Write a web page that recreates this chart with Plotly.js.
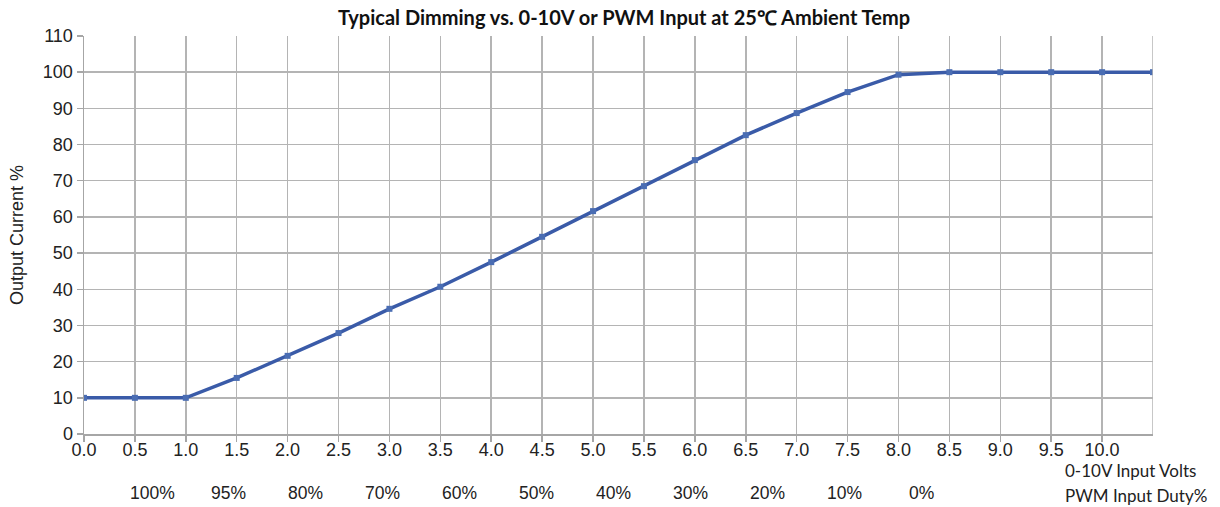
<!DOCTYPE html>
<html>
<head>
<meta charset="utf-8">
<script src="https://cdn.plot.ly/plotly-3.0.1.min.js"></script>
<style>html,body{margin:0;padding:0;background:#fff;}#chart{width:1220px;height:507px;}</style>
</head>
<body>
<div id="chart"></div>
<script>
// Data
var inputVolts = [0.0, 0.5, 1.0, 1.5, 2.0, 2.5, 3.0, 3.5, 4.0, 4.5, 5.0, 5.5, 6.0, 6.5, 7.0, 7.5, 8.0, 8.5, 9.0, 9.5, 10.0, 10.5];
var outputCurrent = [10, 10, 10, 15.5, 21.6, 27.9, 34.6, 40.7, 47.5, 54.5, 61.6, 68.5, 75.7, 82.6, 88.7, 94.5, 99.3, 100, 100, 100, 100, 100];
var voltTickVals = [0.0, 0.5, 1.0, 1.5, 2.0, 2.5, 3.0, 3.5, 4.0, 4.5, 5.0, 5.5, 6.0, 6.5, 7.0, 7.5, 8.0, 8.5, 9.0, 9.5, 10.0];
var voltTickText = ["0.0","0.5","1.0","1.5","2.0","2.5","3.0","3.5","4.0","4.5","5.0","5.5","6.0","6.5","7.0","7.5","8.0","8.5","9.0","9.5","10.0"];
var pwmLabels = ["100%","95%","80%","70%","60%","50%","40%","30%","20%","10%","0%"];

var ARIAL = '"Liberation Sans", Arial, sans-serif';
var CALIBRI = 'Lato, "Open Sans", sans-serif';

var pwmStart = 0.668, pwmStep = 0.756;
var annotations = pwmLabels.map(function(t, i){
  return {x: pwmStart + i*pwmStep, xref:'x', y:-(493-434)/398, yref:'paper', yanchor:'middle',
          text:t, showarrow:false, font:{family:ARIAL, size:17.5, color:'#222'}};
});
annotations.push({text:'0-10V Input Volts', showarrow:false, xref:'paper', yref:'paper', x:(1063-84)/1069, xanchor:'left', y:-(470-434)/398, yanchor:'middle', font:{family:CALIBRI, size:17, color:'#222'}});
annotations.push({text:'PWM Input Duty%', showarrow:false, xref:'paper', yref:'paper', x:(1063-84)/1069, xanchor:'left', y:-(495-434)/398, yanchor:'middle', font:{family:CALIBRI, size:17, color:'#222'}});

var trace = {
  x: inputVolts, y: outputCurrent, type:'scatter', mode:'lines+markers',
  line:{color:'#3a5ba8', width:3.5},
  marker:{symbol:'square', size:6, color:'#4a6db3'},
  hoverinfo:'x+y'
};

var layout = {
  width:1220, height:507,
  margin:{l:84, r:67, t:36, b:73},
  paper_bgcolor:'#fff', plot_bgcolor:'#fff',
  showlegend:false,
  title:{text:'<b>Typical Dimming vs. 0-10V or PWM Input at 25℃ Ambient Temp</b>', x:624/1220, xanchor:'center', y:1-18/507, yanchor:'middle',
         font:{family:CALIBRI, size:20, color:'#111'}},
  xaxis:{range:[0,10.5], tickvals:voltTickVals, ticktext:voltTickText, showgrid:true, gridcolor:'#b4b4b4', gridwidth:1.5,
         showline:true, linecolor:'#a6a6a6', linewidth:1.5, ticks:'outside', ticklen:6, tickcolor:'#a6a6a6', tickwidth:1.5,
         ticklabelstandoff:-7,
         zeroline:false, tickfont:{family:ARIAL, size:18, color:'#222'}, fixedrange:true},
  yaxis:{range:[0,110], dtick:10, tick0:0, showgrid:true, gridcolor:'#b4b4b4', gridwidth:1.5,
         showline:true, linecolor:'#a6a6a6', linewidth:1.5, ticks:'outside', ticklen:6, tickcolor:'#a6a6a6', tickwidth:1.5,
         zeroline:false, tickfont:{family:ARIAL, size:18, color:'#222'},
         title:{text:'Output Current %', font:{family:ARIAL, size:18, color:'#222'}, standoff:14}, fixedrange:true},
  annotations: annotations,
  shapes:[{type:'line', xref:'x', yref:'paper', x0:10.5, x1:10.5, y0:0, y1:1, line:{color:'#b4b4b4', width:1.5}}]
};

Plotly.newPlot('chart', [trace], layout, {displayModeBar:false, staticPlot:true});
</script>
</body>
</html>
